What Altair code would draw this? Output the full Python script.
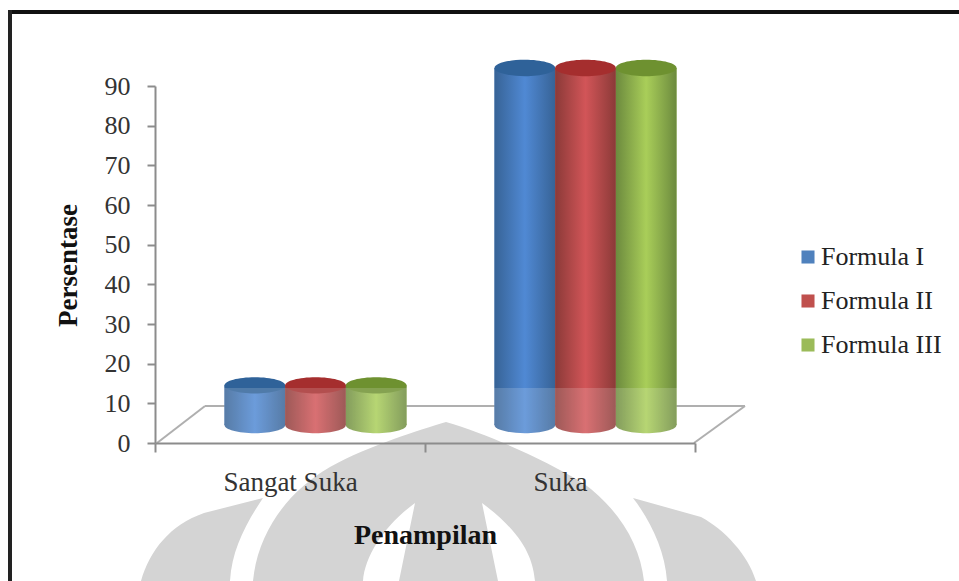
import altair as alt
import pandas as pd

categories = ["Sangat Suka", "Suka"]
series = ["Formula I", "Formula II", "Formula III"]
formula_1 = [10, 90]
formula_2 = [10, 90]
formula_3 = [10, 90]
y_ticks = [0, 10, 20, 30, 40, 50, 60, 70, 80, 90]

base_colors = ["#4F81BD", "#C0504D", "#9BBB59"]
edge_colors = ["#376396", "#8B3A38", "#6C8A3E"]
mid_colors = ["#5089D4", "#D25558", "#A9CE59"]
cap_colors = ["#2F6299", "#A52E2E", "#6E9130"]

SERIF = "Liberation Serif"
FLOOR_LIFT = 18
ELLIPSE = "M-1,0 A1,0.27 0 1,1 1,0 A1,0.27 0 1,1 -1,0 Z"

rows = []
for name, values in zip(series, [formula_1, formula_2, formula_3]):
    for cat, val in zip(categories, values):
        rows.append({"kategori": cat, "formula": name, "persen": val, "nol": 0})
df = pd.DataFrame(rows)

one_row = alt.Data(values=[{"a": 1}])

x_enc = alt.X(
    "kategori:N",
    sort=categories,
    scale=alt.Scale(paddingInner=0, paddingOuter=0),
    axis=alt.Axis(
        title="Penampilan",
        titleFont=SERIF,
        titleFontSize=28,
        titleFontWeight="bold",
        titleColor="#111111",
        titleX=270,
        titleY=92,
        titleBaseline="middle",
        labelFont=SERIF,
        labelFontSize=27,
        labelColor="#333333",
        labelAngle=0,
        labelPadding=30,
        labelBaseline="middle",
        tickBand="extent",
        tickSize=9,
        tickColor="#8C8C8C",
        tickWidth=2,
        domainColor="#8C8C8C",
        domainWidth=2,
        grid=False,
        zindex=1,
    ),
)
x_off = alt.XOffset(
    "formula:N",
    sort=series,
    scale=alt.Scale(domain=series, range=[69.5, 251.5], paddingInner=0, paddingOuter=0),
)
y_scale = alt.Scale(domain=[0, 90], nice=False)
y_axis = alt.Axis(
    values=y_ticks,
    tickCount=10,
    title="Persentase",
    titleFont=SERIF,
    titleFontSize=27,
    titleFontWeight="bold",
    titleColor="#111111",
    titleX=-87,
    titleY=179,
    titleAlign="center",
    titleBaseline="middle",
    labelFont=SERIF,
    labelFontSize=26,
    labelColor="#333333",
    labelPadding=17,
    labelOverlap=False,
    labelFlush=False,
    tickSize=8,
    tickColor="#8C8C8C",
    tickWidth=2,
    domainColor="#8C8C8C",
    domainWidth=2,
    grid=False,
    zindex=1,
)
y_enc = alt.Y("persen:Q", scale=y_scale, axis=y_axis)
y_base = alt.Y("nol:Q", scale=y_scale, axis=y_axis)


def rule(x0, y0, x1, y1, color="#A0A0A0", width=2):
    # straight decoration in plot-area pixels
    return alt.Chart(one_row).mark_rule(color=color, strokeWidth=width).encode(
        x=alt.value(x0), x2=alt.value(x1), y=alt.value(y0), y2=alt.value(y1)
    )


# sloped floor under the cylinders
floor = [
    rule(2, 357, 50, 320),
    rule(50, 320, 590, 320),
    rule(590, 320, 539, 357),
]

# plain bars carry the colour scale and the legend
base_bars = alt.Chart(df).mark_bar(yOffset=-FLOOR_LIFT, y2Offset=-FLOOR_LIFT).encode(
    x=x_enc,
    xOffset=x_off,
    y=y_enc,
    color=alt.Color(
        "formula:N",
        sort=series,
        scale=alt.Scale(domain=series, range=base_colors),
        legend=alt.Legend(
            title=None,
            orient="none",
            legendX=640,
            legendY=158,
            symbolType="square",
            symbolSize=170,
            symbolStrokeWidth=0,
            labelFont=SERIF,
            labelFontSize=26,
            labelColor="#222222",
            labelOffset=0,
            rowPadding=18,
        ),
    ),
)

cylinders = []
for name, edge, mid, cap in zip(series, edge_colors, mid_colors, cap_colors):
    shade = alt.Gradient(
        gradient="linear",
        x1=0, x2=1, y1=0, y2=0,
        stops=[
            alt.GradientStop(offset=0, color=edge),
            alt.GradientStop(offset=0.5, color=mid),
            alt.GradientStop(offset=1, color=edge),
        ],
    )
    subset = alt.Chart(df).transform_filter(alt.datum.formula == name)
    bottom = subset.mark_point(
        filled=True, opacity=1, fill=shade, strokeWidth=0, shape=ELLIPSE, size=3684,
        yOffset=-FLOOR_LIFT,
    ).encode(x=x_enc, xOffset=x_off, y=y_base)
    body = subset.mark_bar(
        fill=shade, yOffset=-FLOOR_LIFT, y2Offset=-FLOOR_LIFT
    ).encode(x=x_enc, xOffset=x_off, y=y_enc)
    top = subset.mark_point(
        filled=True, opacity=1, fill=cap, strokeWidth=0, shape=ELLIPSE, size=3684,
        yOffset=-FLOOR_LIFT,
    ).encode(x=x_enc, xOffset=x_off, y=y_enc)
    cylinders += [bottom, body, top]

# pale band across the lower part of the page
veil = alt.Chart(one_row).mark_rect(color="white", opacity=0.16).encode(
    x=alt.value(-155), x2=alt.value(804), y=alt.value(302), y2=alt.value(495)
)

# grey crest printed behind the lower text
CREST = [
    "M253,581 C258,530 290,490 330,467 C370,445 420,430 446,422 C490,435 545,460 583,483 "
    "C620,510 640,545 644,581 L535,581 C533,560 525,535 482,503 L498,581 L399,581 L415,503 "
    "C385,525 365,555 363,581 Z",
    "M141,581 C150,550 170,525 204,513 L263,498 C245,525 232,550 230,581 Z",
    "M633,498 L701,517 C725,530 748,555 756,581 L667,581 C665,550 650,520 633,498 Z",
]
crest = [
    alt.Chart(one_row)
    .mark_point(filled=True, opacity=1, fill="#D4D4D4", strokeWidth=0, shape=p, size=4)
    .encode(x=alt.value(-155), y=alt.value(-86))
    for p in CREST
]

# dark frame along the top and left edges
frame = [
    rule(-147, -74, 804, -74, "#111111", 4),
    rule(-145, -76, -145, 495, "#222222", 4),
]

chart = (
    alt.layer(*floor, base_bars, *cylinders, veil, *crest, *frame)
    .properties(
        width=540,
        height=357,
        padding={"left": 155, "top": 86, "right": 264, "bottom": 138},
        autosize=alt.AutoSizeParams(type="none"),
        background="white",
    )
    .configure_view(stroke=None)
)

chart.save("out.html", embed_options={"renderer": "svg", "actions": False})
